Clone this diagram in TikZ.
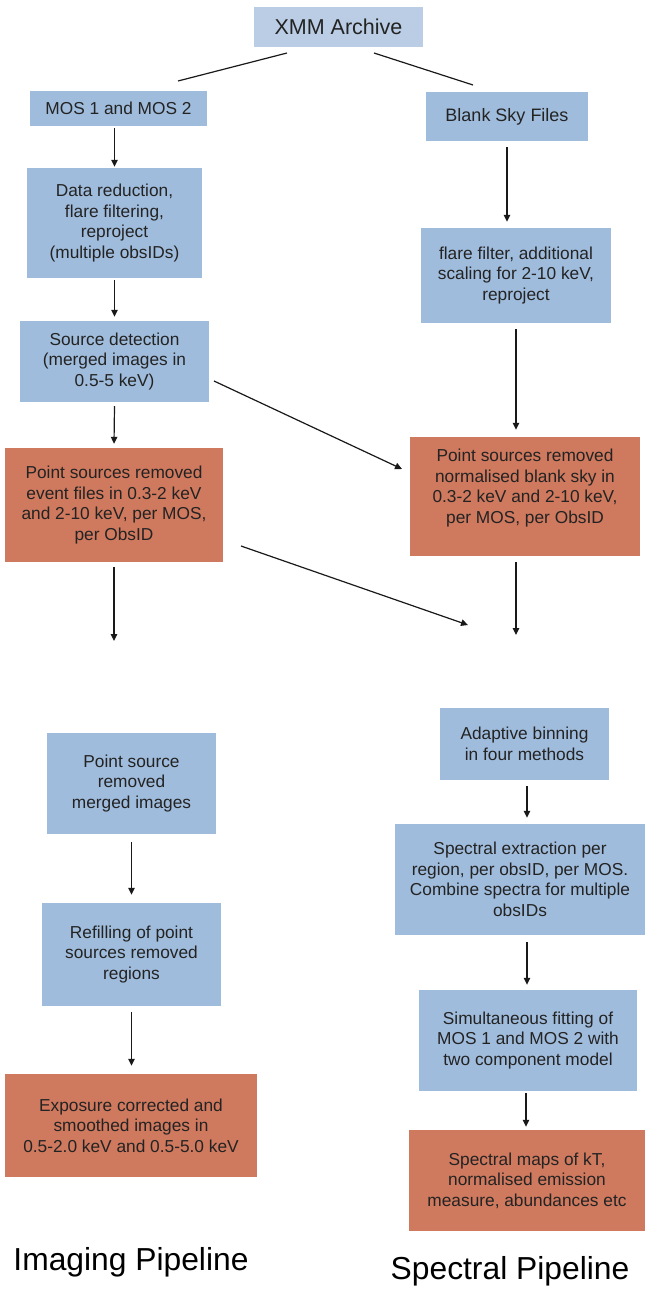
\documentclass[tikz,border=0pt]{standalone}
\usepackage{fontspec}
\setmainfont{Liberation Sans}
\usetikzlibrary{arrows.meta,calc}
\definecolor{boxblue}{RGB}{160,188,220}
\definecolor{boxlight}{RGB}{186,205,229}
\definecolor{boxorange}{RGB}{207,121,94}
\definecolor{txt}{RGB}{35,35,35}
\tikzset{
  box/.style={rectangle, draw=none, align=center, inner sep=2pt, text=txt,
    font=\fontsize{17.3}{20.6}\selectfont},
  bluebox/.style={box, fill=boxblue},
  orangebox/.style={box, fill=boxorange},
  conn/.style={line width=1.2pt, draw=black!90},
  arr/.style={conn, -{Triangle[length=7pt,width=6.5pt]}},
  title/.style={text=black, font=\fontsize{31.8}{36}\selectfont}
}
\begin{document}
\begin{tikzpicture}[x=1pt,y=-1pt]
\useasboundingbox (0,0) rectangle (648,1290);

% Boxes
\node[box, fill=boxlight, minimum width=169pt, minimum height=40pt,
  font=\fontsize{21.5}{24}\selectfont] (xmm) at (338.5,27) {XMM Archive};
\node[bluebox, minimum width=177pt, minimum height=35pt] (mos) at (118.5,108.5) {MOS 1 and MOS 2};
\node[bluebox, minimum width=162pt, minimum height=49pt,
  font=\fontsize{18}{21}\selectfont] (blank) at (507,116.5) {Blank Sky Files};
\node[bluebox, minimum width=175pt, minimum height=110pt] (datared) at (114.5,223)
  {Data reduction,\\ flare filtering,\\ reproject\\ (multiple obsIDs)};
\node[bluebox, minimum width=190pt, minimum height=95pt] (flare) at (516,275.5)
  {flare filter, additional\\ scaling for 2-10 keV,\\ reproject};
\node[bluebox, minimum width=189pt, minimum height=81pt] (srcdet) at (114.5,361.5)
  {Source detection\\ (merged images in\\ 0.5-5 keV)};
\node[orangebox, minimum width=218pt, minimum height=114pt] (orL) at (114,505)
  {Point sources removed\\ event files in 0.3-2 keV\\ and 2-10 keV, per MOS,\\ per ObsID};
\node[orangebox, minimum width=230pt, minimum height=119pt] (orR) at (525,496.5)
  {Point sources removed\\ normalised blank sky in\\ 0.3-2 keV and 2-10 keV,\\ per MOS, per ObsID\\ \mbox{}};
\node[bluebox, minimum width=169pt, minimum height=101pt] (psrm) at (131.5,783.5)
  {Point source\\ removed\\ merged images};
\node[bluebox, minimum width=179pt, minimum height=103pt] (refill) at (131.5,954.5)
  {Refilling of point\\ sources removed\\ regions};
\node[orangebox, minimum width=252pt, minimum height=103pt] (expo) at (131,1125.5)
  {Exposure corrected and\\ smoothed images in\\ 0.5-2.0 keV and 0.5-5.0 keV};
\node[bluebox, minimum width=169pt, minimum height=72pt] (adapt) at (524.5,744)
  {Adaptive binning\\ in four methods};
\node[bluebox, minimum width=250pt, minimum height=111pt] (specext) at (520,879.5)
  {Spectral extraction per\\ region, per obsID, per MOS.\\ Combine spectra for multiple\\ obsIDs};
\node[bluebox, minimum width=218pt, minimum height=101pt] (simul) at (528,1040.5)
  {Simultaneous fitting of\\ MOS 1 and MOS 2 with\\ two component model};
\node[orangebox, minimum width=236pt, minimum height=101pt] (specmaps) at (527,1180.5)
  {Spectral maps of kT,\\ normalised emission\\ measure, abundances etc};

% Titles
\node[title] (imgtitle) at (131,1262) {Imaging Pipeline};
\node[title] (spectitle) at (510,1271) {Spectral Pipeline};

% Coordinates for free ends
\coordinate (xl0) at (287,53);
\coordinate (xl1) at (178,81);
\coordinate (xr0) at (374,53);
\coordinate (xr1) at (473,85);
\coordinate (d1s) at (214,381);
\coordinate (d1e) at (402,469);
\coordinate (d2s) at (241,546);
\coordinate (d2e) at (468,625);
\coordinate (endL) at (114,641);
\coordinate (endR) at (516,635);

% Connectors
\draw[conn] (xl0) -- (xl1);
\draw[conn] (xr0) -- (xr1);
\draw[arr] ($(mos.south -| datared.north)+(0,2)$) -- ($(datared.north)+(0,-1)$);
\draw[arr] ($(datared.south)+(0,2)$) -- ($(srcdet.north)+(0,-4)$);
\draw[arr] ($(srcdet.south)+(0,4)$) -- ($(orL.north)+(0,-4)$);
\draw[arr] ($(orL.south)+(0,5)$) -- (endL);
\draw[arr] ($(blank.south)+(0,6)$) -- ($(blank.south |- flare.north)+(0,-6)$);
\draw[arr] ($(flare.south)+(0,6)$) -- ($(flare.south |- orR.north)+(0,-7)$);
\draw[arr] ($(flare.south |- orR.south)+(0,6)$) -- (endR);
\draw[arr] (d1s) -- (d1e);
\draw[arr] (d2s) -- (d2e);
\draw[arr] ($(psrm.south)+(0,8)$) -- ($(refill.north)+(0,-8)$);
\draw[arr] ($(refill.south)+(0,6)$) -- ($(refill.south |- expo.north)+(0,-8)$);
\draw[arr] ($(adapt.south)+(2.5,6)$) -- ($(adapt.south |- specext.north)+(2.5,-6)$);
\draw[arr] ($(specext.south)+(7,7)$) -- ($(specext.south |- simul.north)+(7,-5)$);
\draw[arr] ($(simul.south)+(-2,2)$) -- ($(simul.south |- specmaps.north)+(-2,-3)$);
\end{tikzpicture}
\end{document}
